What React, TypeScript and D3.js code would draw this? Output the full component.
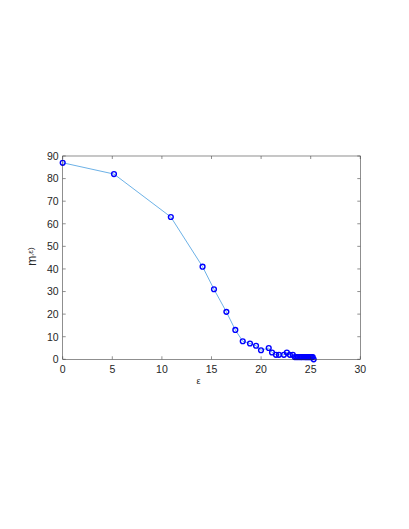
import React from "react";
import * as d3 from "d3";

const xVals = [0, 5.17, 10.9, 14.1, 15.25, 16.5, 17.4, 18.15, 18.88, 19.49, 19.99, 20.77, 21.1, 21.5, 21.8, 22.3, 22.6, 22.9, 23.2, 23.4, 23.55, 23.7, 23.85, 24.0, 24.1, 24.25, 24.4, 24.5, 24.6, 24.7, 24.8, 24.9, 25.0, 25.1, 25.2, 25.3];
const yVals = [87, 82, 63, 41, 31, 21, 13, 8, 7, 6, 4, 5, 3, 2, 2, 2, 3, 2, 2, 1, 1, 1, 1, 1, 1, 1, 1, 1, 1, 1, 1, 1, 1, 1, 1, 0];
const xTicks = [0, 5, 10, 15, 20, 25, 30];
const yTicks = [0, 10, 20, 30, 40, 50, 60, 70, 80, 90];

const W = 409, H = 529;
const L = 62.7, R = 360.3, T = 156, B = 359.3;

export default function App() {
  const x = d3.scaleLinear().domain([0, 30]).range([L, R]);
  const y = d3.scaleLinear().domain([0, 90]).range([B, T]);
  const pts = xVals.map((v, i) => [v, yVals[i]] as [number, number]);
  const line = d3.line<[number, number]>().x(d => x(d[0])).y(d => y(d[1]))(pts) || "";
  const axisColor = "#262626";
  const font = "'Liberation Sans', Arial, Helvetica, sans-serif";
  const tl = 3;
  return (
    <div style={{ position: "absolute", left: 0, top: 0 }}>
      <svg width={W} height={H} style={{ display: "block", background: "#fff" }}>
        <rect x={0} y={0} width={W} height={H} fill="#fff" />
        <path d={line} fill="none" stroke="#5BA8E3" strokeWidth={0.9} />
        {pts.map((d, i) => (
          <circle key={i} cx={x(d[0])} cy={y(d[1])} r={2.4} fill="none" stroke="#0000FF" strokeWidth={1.4} />
        ))}
        <g stroke={axisColor} strokeWidth={0.6} fill="none" opacity={0.85}>
          <rect x={L} y={T} width={R - L} height={B - T} />
          {xTicks.map(t => (
            <g key={"x" + t}>
              <line x1={x(t)} x2={x(t)} y1={B} y2={B - tl} />
              <line x1={x(t)} x2={x(t)} y1={T} y2={T + tl} />
            </g>
          ))}
          {yTicks.map(t => (
            <g key={"y" + t}>
              <line x1={L} x2={L + tl} y1={y(t)} y2={y(t)} />
              <line x1={R} x2={R - tl} y1={y(t)} y2={y(t)} />
            </g>
          ))}
        </g>
        <g fontFamily={font} fontSize={10.5} fill={axisColor}>
          {xTicks.map(t => (
            <text key={"xl" + t} x={x(t)} y={B + 14} textAnchor="middle">{t}</text>
          ))}
          {yTicks.map(t => (
            <text key={"yl" + t} x={L - 4} y={y(t) + 3.8} textAnchor="end">{t}</text>
          ))}
        </g>
        <text x={x(13.7)} y={384} fontFamily={font} fontSize={9} fill={axisColor} textAnchor="middle">ε</text>
        <g transform={`translate(36, ${(T + B) / 2 - 1}) rotate(-90)`} fontFamily={font} fill={axisColor}>
          <text x={0} y={0} textAnchor="middle">
            <tspan fontSize={12}>m</tspan>
            <tspan fontSize={8} dy={-3}>,ε)</tspan>
          </text>
        </g>
      </svg>
    </div>
  );
}
